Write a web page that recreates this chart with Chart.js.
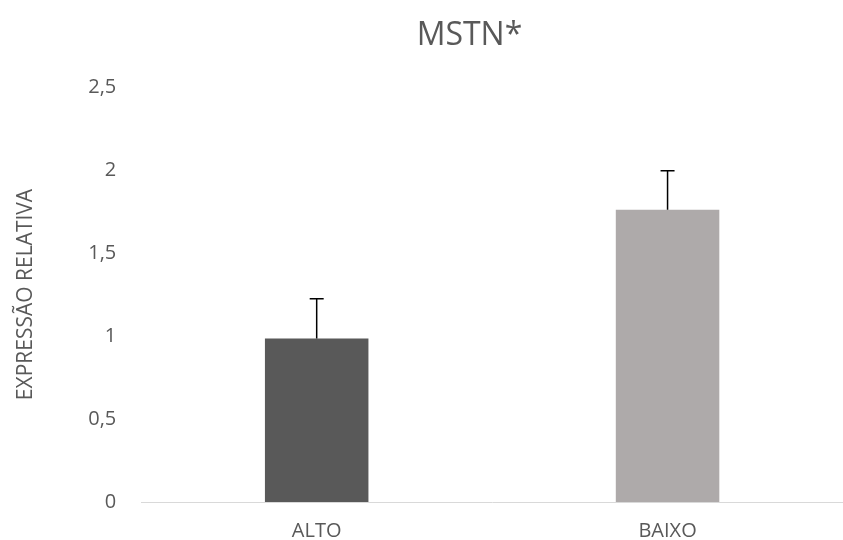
<!DOCTYPE html>
<html>
<head>
<meta charset="utf-8">
<script src="https://cdn.jsdelivr.net/npm/chart.js@4"></script>
<style>
  body { margin: 0; background: #fff; }
  #wrap { width: 843px; height: 540px; }
</style>
</head>
<body>
<div id="wrap"><canvas id="mstnChart"></canvas></div>
<script>
const categorias = ['ALTO', 'BAIXO'];
const valores = [0.985, 1.76];
const erros = [0.24, 0.235];
const cores = ['#595959', '#AEAAAA'];
const ticksY = [0, 0.5, 1, 1.5, 2, 2.5];
const titulo = 'MSTN*';

// barras de erro (somente para cima)
const errorBars = {
  id: 'errorBars',
  afterDatasetsDraw(chart) {
    const ctx = chart.ctx;
    const meta = chart.getDatasetMeta(0);
    const y = chart.scales.y;
    ctx.save();
    ctx.strokeStyle = '#000';
    ctx.lineWidth = 1.5;
    meta.data.forEach((bar, i) => {
      const yTop = y.getPixelForValue(valores[i] + erros[i]);
      const yBase = y.getPixelForValue(valores[i]);
      ctx.beginPath();
      ctx.moveTo(bar.x, yBase);
      ctx.lineTo(bar.x, yTop);
      ctx.moveTo(bar.x - 7, yTop);
      ctx.lineTo(bar.x + 7, yTop);
      ctx.stroke();
    });
    ctx.restore();
  }
};

// titulo um pouco deslocado para a direita, como no original
const tituloPlugin = {
  id: 'tituloPlugin',
  afterDraw(chart) {
    const ctx = chart.ctx;
    ctx.save();
    ctx.fillStyle = '#595959';
    ctx.font = '32px "Open Sans"';
    ctx.textAlign = 'center';
    ctx.textBaseline = 'middle';
    ctx.fillText(titulo, chart.width / 2 + 48, 36);
    ctx.restore();
  }
};

new Chart(document.getElementById('mstnChart'), {
  type: 'bar',
  data: {
    labels: categorias,
    datasets: [{
      data: valores,
      backgroundColor: cores,
      categoryPercentage: 1,
      barPercentage: 0.295
    }]
  },
  options: {
    responsive: true,
    maintainAspectRatio: false,
    animation: false,
    layout: { padding: { left: 13, right: -16, top: 87, bottom: -20 } },
    plugins: {
      legend: { display: false },
      tooltip: { enabled: false },
      title: { display: false }
    },
    scales: {
      x: {
        grid: { display: false, drawTicks: false },
        border: { color: '#D9D9D9', width: 1 },
        ticks: { color: '#595959', font: { family: 'Open Sans', size: 20 }, padding: 17 }
      },
      y: {
        min: 0,
        max: 2.5,
        afterBuildTicks(axis) { axis.ticks = ticksY.map(v => ({ value: v })); },
        grid: { display: false, drawTicks: false },
        border: { display: false },
        ticks: {
          color: '#595959',
          font: { family: 'Open Sans', size: 20 },
          padding: 25,
          callback: v => String(v).replace('.', ',')
        },
        title: {
          display: true,
          text: 'EXPRESSÃO RELATIVA',
          color: '#595959',
          font: { family: 'Open Sans', size: 21 },
          padding: { top: 0, bottom: 25 }
        }
      }
    }
  },
  plugins: [errorBars, tituloPlugin]
});
</script>
</body>
</html>
